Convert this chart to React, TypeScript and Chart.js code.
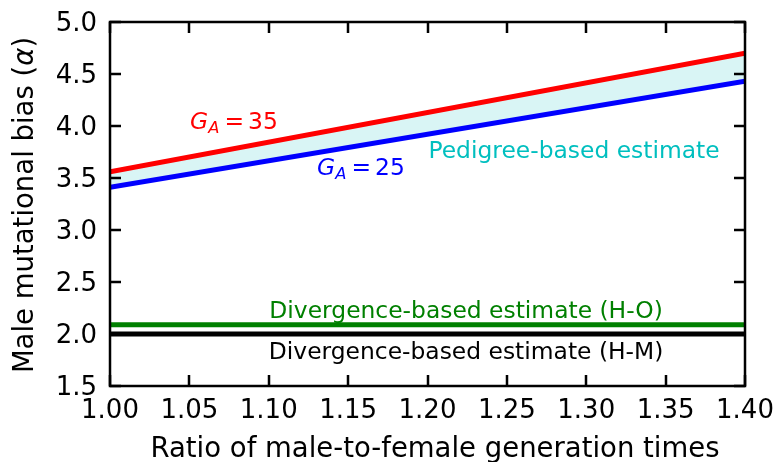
import { useEffect, useRef } from "react";
import { Chart, registerables } from "chart.js";

Chart.register(...registerables);

// Ratio of male-to-female generation times (x) and male mutational bias (y)
const ratios = [1.0, 1.4];
const alphaGA35 = [3.56, 4.7];
const alphaGA25 = [3.41, 4.43];
const alphaHO = [2.09, 2.09];
const alphaHM = [2.0, 2.0];

const xTickLabels = ["1.00", "1.05", "1.10", "1.15", "1.20", "1.25", "1.30", "1.35", "1.40"];
const yTickLabels = ["1.5", "2.0", "2.5", "3.0", "3.5", "4.0", "4.5", "5.0"];

const FONT = "'DejaVu Sans', sans-serif";
const TICK_SIZE = 26;
const TITLE_SIZE = 27.5;
const NOTE_SIZE = 23.4;

type Note = { text: string; x: number; y: number; color: string };
const notes: Note[] = [
  { text: "Pedigree-based estimate", x: 1.2923, y: 3.77, color: "#00bfbf" },
  { text: "Divergence-based estimate (H-O)", x: 1.2243, y: 2.24, color: "#008000" },
  { text: "Divergence-based estimate (H-M)", x: 1.2243, y: 1.846, color: "#000000" },
];
const genNotes = [
  { value: "35", x: 1.0504, y: 4.058, color: "#ff0000" },
  { value: "25", x: 1.1304, y: 3.615, color: "#0000ff" },
];

const framePlugin = {
  id: "framePlugin",
  afterDraw(chart: any) {
    const { ctx, chartArea: a, scales } = chart;
    const xs = scales.x;
    const ys = scales.y;
    ctx.save();
    // inward ticks on all four sides
    ctx.strokeStyle = "#000";
    ctx.lineWidth = 2.5;
    const tl = 11;
    ctx.beginPath();
    for (const t of xs.ticks) {
      const px = Math.round(xs.getPixelForValue(t.value));
      ctx.moveTo(px, a.bottom);
      ctx.lineTo(px, a.bottom - tl);
      ctx.moveTo(px, a.top);
      ctx.lineTo(px, a.top + tl);
    }
    for (const t of ys.ticks) {
      const py = Math.round(ys.getPixelForValue(t.value));
      ctx.moveTo(a.left, py);
      ctx.lineTo(a.left + tl, py);
      ctx.moveTo(a.right, py);
      ctx.lineTo(a.right - tl, py);
    }
    ctx.stroke();
    ctx.strokeRect(a.left, a.top, a.right - a.left, a.bottom - a.top);

    // text annotations
    ctx.textBaseline = "alphabetic";
    for (const n of notes) {
      ctx.font = `${NOTE_SIZE}px ${FONT}`;
      ctx.fillStyle = n.color;
      ctx.textAlign = "center";
      const py = ys.getPixelForValue(n.y) + NOTE_SIZE * 0.365;
      ctx.fillText(n.text, xs.getPixelForValue(n.x), py);
    }
    for (const g of genNotes) {
      ctx.fillStyle = g.color;
      ctx.textAlign = "left";
      let px = xs.getPixelForValue(g.x);
      const py = ys.getPixelForValue(g.y) + NOTE_SIZE * 0.365;
      ctx.font = `italic ${NOTE_SIZE}px ${FONT}`;
      ctx.fillText("G", px, py);
      px += ctx.measureText("G").width;
      const sub = NOTE_SIZE * 0.7;
      ctx.font = `italic ${sub}px ${FONT}`;
      ctx.fillText("A", px, py + NOTE_SIZE * 0.2);
      px += ctx.measureText("A").width + NOTE_SIZE * 0.22;
      ctx.font = `${NOTE_SIZE}px ${FONT}`;
      ctx.fillText("=", px, py);
      px += ctx.measureText("=").width + NOTE_SIZE * 0.17;
      ctx.fillText(g.value, px, py);
    }

    // axis titles
    ctx.fillStyle = "#000";
    ctx.font = `${TITLE_SIZE}px ${FONT}`;
    ctx.textAlign = "center";
    ctx.fillText("Ratio of male-to-female generation times", 435, 457);

    const parts = [
      { s: "Male mutational bias (", f: `${TITLE_SIZE}px ${FONT}` },
      { s: "\u03b1", f: `italic ${TITLE_SIZE}px ${FONT}` },
      { s: ")", f: `${TITLE_SIZE}px ${FONT}` },
    ];
    let total = 0;
    const widths = parts.map((p) => {
      ctx.font = p.f;
      const w = ctx.measureText(p.s).width;
      total += w;
      return w;
    });
    ctx.translate(33, 205);
    ctx.rotate(-Math.PI / 2);
    ctx.textAlign = "left";
    let cx = -total / 2;
    parts.forEach((p, i) => {
      ctx.font = p.f;
      ctx.fillText(p.s, cx, 0);
      cx += widths[i];
    });
    ctx.restore();
  },
};

const noScalePadding = (s: any) => {
  s.paddingTop = 0;
  s.paddingBottom = 0;
  s.paddingLeft = 0;
  s.paddingRight = 0;
};

export default function App() {
  const ref = useRef<HTMLCanvasElement | null>(null);

  useEffect(() => {
    document.body.style.margin = "0";
    const canvas = ref.current;
    if (!canvas) return;
    const line = (data: number[], color: string, extra: any = {}) => ({
      data: ratios.map((x, i) => ({ x, y: data[i] })),
      borderColor: color,
      borderWidth: 5,
      pointRadius: 0,
      fill: false,
      clip: 0,
      ...extra,
    });
    const chart = new Chart(canvas, {
      type: "line",
      data: {
        datasets: [
          line(alphaGA35, "#ff0000"),
          line(alphaGA25, "#0000ff", { fill: "-1", backgroundColor: "rgba(0,191,191,0.15)" }),
          line(alphaHO, "#008000"),
          line(alphaHM, "#000000"),
        ],
      },
      options: {
        responsive: false,
        animation: false,
        devicePixelRatio: 1,
        layout: { padding: { top: 22, right: 32, left: 0, bottom: 0 } },
        plugins: { legend: { display: false }, tooltip: { enabled: false } },
        scales: {
          x: {
            type: "linear",
            min: 1.0,
            max: 1.4,
            afterFit: (s: any) => {
              s.height = 76;
              noScalePadding(s);
            },
            border: { display: false },
            grid: { display: false, drawTicks: false },
            ticks: {
              stepSize: 0.05,
              padding: 10,
              maxRotation: 0,
              autoSkip: false,
              color: "#000",
              font: { family: FONT, size: TICK_SIZE },
              callback: (_v: any, i: number) => xTickLabels[i],
            },
          },
          y: {
            type: "linear",
            min: 1.5,
            max: 5.0,
            afterFit: (s: any) => {
              s.width = 110;
              noScalePadding(s);
            },
            border: { display: false },
            grid: { display: false, drawTicks: false },
            ticks: {
              stepSize: 0.5,
              padding: 13,
              labelOffset: 2,
              autoSkip: false,
              color: "#000",
              font: { family: FONT, size: TICK_SIZE },
              callback: (_v: any, i: number) => yTickLabels[i],
            },
          },
        },
      },
      plugins: [framePlugin],
    });
    return () => chart.destroy();
  }, []);

  return <canvas ref={ref} width={777} height={462} style={{ display: "block" }} />;
}
